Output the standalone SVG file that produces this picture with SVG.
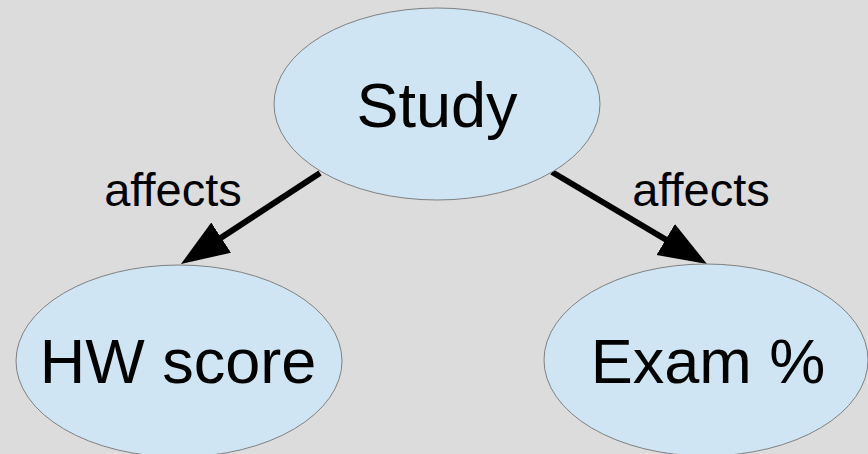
<svg xmlns="http://www.w3.org/2000/svg" width="868" height="454" viewBox="0 0 868 454">
<style>
.node{fill:#cfe5f3;stroke:#808080;stroke-width:1}
.lbl{font-family:"Liberation Sans",Arial,sans-serif;fill:#000;text-anchor:middle}
.big{font-size:63px}
.small{font-size:47px}
.edge{stroke:#000;stroke-width:6;fill:none}
</style>
<defs>
<marker id="arr" markerUnits="userSpaceOnUse" markerWidth="50" markerHeight="40" refX="28" refY="18" orient="auto">
<path d="M0,0 L48,18 L0,36 Z" fill="#000"/>
</marker>
</defs>
<rect width="868" height="454" fill="#dcdcdc"/>
<g id="connectors">
<line class="edge" x1="320" y1="173" x2="197.7" y2="253" marker-end="url(#arr)"/>
<line class="edge" x1="552" y1="172" x2="689.8" y2="253.8" marker-end="url(#arr)"/>
<text class="lbl small" x="173" y="206">affects</text>
<text class="lbl small" x="701" y="206">affects</text>
</g>
<g id="study">
<ellipse class="node" cx="437" cy="104" rx="163" ry="96"/>
<text class="lbl big" x="437" y="127">Study</text>
</g>
<g id="hw">
<ellipse class="node" cx="179" cy="361" rx="163" ry="96"/>
<text class="lbl big" x="178" y="383">HW score</text>
</g>
<g id="exam">
<ellipse class="node" cx="706" cy="360" rx="162" ry="96"/>
<text class="lbl big" x="708" y="383">Exam %</text>
</g>
</svg>
